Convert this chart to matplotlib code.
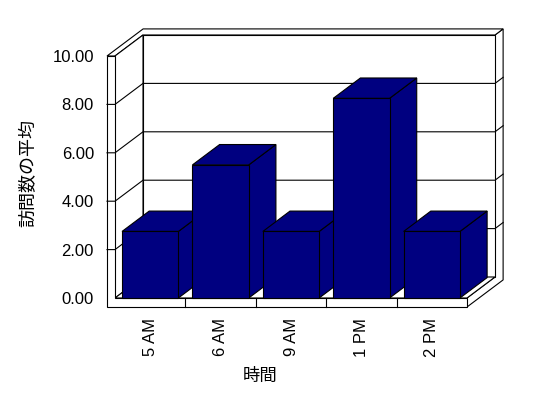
import matplotlib.pyplot as plt
from matplotlib.patches import Polygon

categories = ["5 AM", "6 AM", "9 AM", "1 PM", "2 PM"]
visits = [2.75, 5.5, 2.75, 8.25, 2.75]
yticks = [0, 2, 4, 6, 8, 10]
ytick_labels = ["%.2f" % t for t in yticks]
x_title = "時間"
y_title = "訪問数の平均"

plt.rcParams['font.family'] = ['Liberation Sans', 'DejaVu Sans']
CJK = ['Noto Sans CJK JP', 'DejaVu Sans']

W, H = 548, 398
fig = plt.figure(figsize=(W / 100, H / 100), dpi=100)

# axes = front plane of the 3d box, data units: categories x values
ax = fig.add_axes([115 / W, 1 - 298 / H, 352 / W, 242 / H])
n = len(categories)
top = yticks[-1]
ax.set_xlim(0, n)
ax.set_ylim(0, top)
ax.axis('off')

px = 352 / n      # pixels per category
py = 242 / top    # pixels per unit
DX, DY = 28 / px, 21 / py   # depth vector
WT = 8 / px       # left wall thickness
FT = 9 / py       # floor thickness
BT = 0.29         # back wall thickness (fraction of depth)


def P(x, y, d):
    return (x + d * DX, y + d * DY)


def face(pts, fc='white', z=1):
    ax.add_patch(Polygon([P(*p) for p in pts], closed=True, fc=fc, ec='black',
                         lw=0.8, clip_on=False, zorder=z, joinstyle='miter'))


def line(pts, z=2):
    xy = [P(*p) for p in pts]
    ax.plot([p[0] for p in xy], [p[1] for p in xy], color='black', lw=0.8,
            clip_on=False, zorder=z, solid_joinstyle='miter')


# walls and floor
face([(n, -FT, 0), (n, 0, 0), (n, 0, 1), (n, top, 1), (n, top, 1 + BT), (n, -FT, 1 + BT)])
face([(-WT, top, 0), (0, top, 0), (0, top, 1), (n, top, 1), (n, top, 1 + BT), (-WT, top, 1 + BT)])
face([(0, 0, 1), (n, 0, 1), (n, top, 1), (0, top, 1)])
face([(0, 0, 0), (0, 0, 1), (0, top, 1), (0, top, 0)])
face([(0, 0, 0), (n, 0, 0), (n, 0, 1), (0, 0, 1)])
face([(-WT, -FT, 0), (n, -FT, 0), (n, 0, 0), (0, 0, 0), (0, top, 0), (-WT, top, 0)])

# gridlines
for v in yticks[1:-1]:
    line([(-WT, v, 0), (0, v, 0), (0, v, 1), (n, v, 1), (n, v, 1 + BT)])

# category dividers on the floor edge
for i in range(1, n):
    line([(i, 0, 0), (i, -FT, 0)])

# bars
bw, d1 = 0.8, 0.97
for i, v in enumerate(visits):
    x0 = i + (1 - bw) / 2
    x1 = x0 + bw
    z = 3 + i * 0.01
    face([(x1, 0, 0), (x1, 0, d1), (x1, v, d1), (x1, v, 0)], fc='#000080', z=z)
    face([(x0, v, 0), (x1, v, 0), (x1, v, d1), (x0, v, d1)], fc='#000080', z=z)
    face([(x0, 0, 0), (x1, 0, 0), (x1, v, 0), (x0, v, 0)], fc='#000080', z=z)

# tick labels
for t, lab in zip(yticks, ytick_labels):
    ax.annotate(lab, xy=P(-WT, t, 0), xytext=(-13, 0), textcoords='offset pixels',
                ha='right', va='center_baseline', fontsize=12, annotation_clip=False)

for i, cat in enumerate(categories):
    ax.annotate(cat, xy=(i + 0.5, -FT), xytext=(0, -11), textcoords='offset pixels',
                ha='center', va='top', rotation=90, fontsize=12, annotation_clip=False)

fig.text(260 / W, 1 - 376 / H, x_title, family=CJK, fontsize=12.5, ha='center', va='center')
fig.text(28 / W, 1 - 173 / H, y_title, family=CJK, fontsize=13, rotation=90,
         ha='center', va='center')

fig.savefig('out.png', dpi=100)
